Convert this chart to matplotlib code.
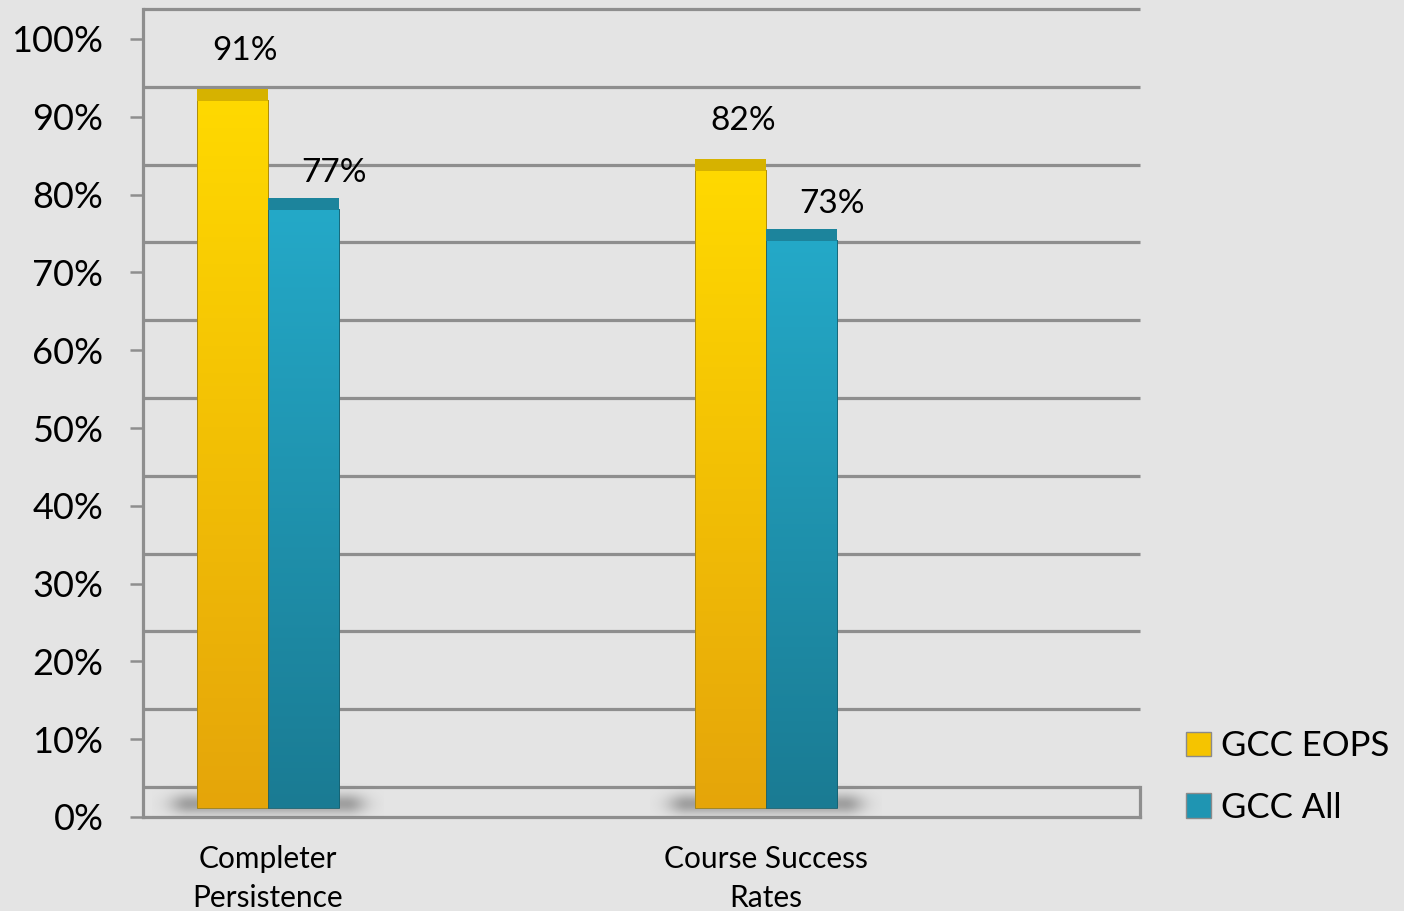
import numpy as np
import matplotlib
matplotlib.use("Agg")
import matplotlib.pyplot as plt
from matplotlib.patches import Patch
from matplotlib.colors import LinearSegmentedColormap

# ---- data ----
categories = ["Completer\nPersistence", "Course Success\nRates"]
series_names = ["GCC EOPS", "GCC All"]
eops_values = [91, 82]
all_values = [77, 73]
y_ticks = [0, 10, 20, 30, 40, 50, 60, 70, 80, 90, 100]
y_tick_labels = [f"{v}%" for v in y_ticks]

# ---- style ----
plt.rcParams['font.family'] = ['Lato', 'DejaVu Sans']
BG = "#e4e4e4"
GRID = "#8e8e8e"
YEL_TOP, YEL_BOT, YEL_CAP = "#ffd900", "#e5a50a", "#d6b200"
TEAL_TOP, TEAL_BOT, TEAL_CAP = "#24a9c8", "#1a7b93", "#1c849c"

W, H = 1404, 911
fig = plt.figure(figsize=(W / 100, H / 100), dpi=100)
fig.patch.set_facecolor(BG)

# axes: y=0 at px 817, y=100 at px 39 ; x from px 143 to 1140
ax = fig.add_axes([143 / W, (H - 817) / H, (1140 - 143) / W, 778 / H])
ax.set_facecolor("none")
x0, x1 = -0.251, 1.751
ax.set_xlim(x0, x1)
ax.set_ylim(0, 100)

back = 3.86    # back wall offset (units)
base = 1.16    # bar base offset
cap = 1.55     # visible top face of bars
bw = 0.1426

# back gridlines
for v in y_ticks:
    ax.plot([x0, x1], [v + back, v + back], color=GRID, lw=2.3, clip_on=False,
            solid_capstyle="butt", zorder=1)
# left wall line & floor
ax.plot([x0, x0], [0, 100 + back], color=GRID, lw=2.3, clip_on=False, zorder=1)
ax.plot([x0, x1], [0, 0], color=GRID, lw=2.3, clip_on=False, zorder=1)
ax.plot([x1, x1], [0, back], color=GRID, lw=2.3, clip_on=False, zorder=1)

xs = np.arange(len(categories))

# shadows under bar pairs
for xc in xs:
    gx = np.linspace(-1, 1, 200)
    gy = np.linspace(-1, 1, 60)
    GX, GY = np.meshgrid(gx, gy)
    alpha = np.exp(-((np.maximum(np.abs(GX) - 0.68, 0) / 0.17) ** 2)
                   - (GY / 0.5) ** 2) * 0.6
    img = np.zeros((60, 200, 4))
    img[..., 0:3] = 0.45
    img[..., 3] = alpha
    ax.imshow(img, extent=[xc - bw - 0.09, xc + bw + 0.09, -1.0, 4.3],
              aspect="auto", zorder=2, interpolation="bilinear")


def grad_fill(bars, top, bot, cap_color, values):
    cmap = LinearSegmentedColormap.from_list("g", [bot, top])
    grad = np.linspace(0, 1, 256).reshape(-1, 1)
    for b in bars:
        x, y = b.get_x(), b.get_y()
        w, h = b.get_width(), b.get_height()
        im = ax.imshow(grad, cmap=cmap, origin="lower", aspect="auto",
                       extent=[x, x + w, y, y + h], zorder=3)
        im.set_clip_path(b)
    ax.bar([b.get_x() + b.get_width() / 2 for b in bars],
           [cap] * len(bars),
           bottom=[v + base - 0.1 for v in values], width=bw,
           color=cap_color, edgecolor="none", zorder=6)


b1 = ax.bar(xs - bw / 2, eops_values, bottom=base, width=bw, color="none",
            edgecolor="#a08010", lw=0.6, zorder=5)
b2 = ax.bar(xs + bw / 2, all_values, bottom=base, width=bw, color="none",
            edgecolor="#15606f", lw=0.6, zorder=5)
grad_fill(b1, YEL_TOP, YEL_BOT, YEL_CAP, eops_values)
grad_fill(b2, TEAL_TOP, TEAL_BOT, TEAL_CAP, all_values)

ax.set_xlim(x0, x1)
ax.set_ylim(0, 100)

# data labels
for xc, v in zip(xs - bw / 2, eops_values):
    ax.annotate(f"{v}%", (xc, v + base), xytext=(9, 35), textcoords="offset points",
                ha="center", va="center", fontsize=24, color="black", zorder=7)
for xc, v in zip(xs + bw / 2, all_values):
    ax.annotate(f"{v}%", (xc, v + base), xytext=(22, 26), textcoords="offset points",
                ha="center", va="center", fontsize=24, color="black", zorder=7)

# axes ticks
for s in ax.spines.values():
    s.set_visible(False)
ax.set_yticks(y_ticks)
ax.set_yticklabels(y_tick_labels, fontsize=26)
ax.tick_params(axis="y", direction="out", length=9.5, width=1.8, color=GRID, pad=19)
ax.set_xticks(xs)
ax.set_xticklabels(categories, fontsize=21.5, linespacing=1.5)
ax.tick_params(axis="x", length=0, pad=20)

# legend
handles = [Patch(facecolor="#f5c400", edgecolor="#8a8a8a", lw=1.0),
           Patch(facecolor="#1f95b2", edgecolor="#8a8a8a", lw=1.0)]
fig.legend(handles, series_names, loc="center left",
           bbox_to_anchor=(1169 / W, (H - 777) / H), frameon=False,
           fontsize=25, handlelength=0.7, handleheight=0.7,
           handletextpad=0.3, labelspacing=0.85, borderpad=0)

fig.savefig("out.png", dpi=100, facecolor=BG)
